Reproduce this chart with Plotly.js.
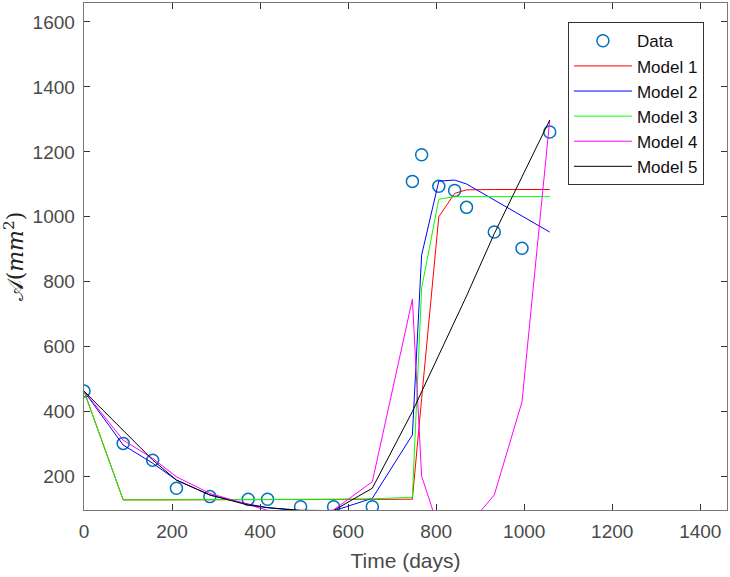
<!DOCTYPE html>
<html>
<head>
<meta charset="utf-8">
<script src="https://cdn.plot.ly/plotly-3.0.1.min.js"></script>
<style>html,body{margin:0;padding:0;background:#fff;}#chart{width:730px;height:577px;}</style>
</head>
<body>
<div id="chart"></div>
<script>
// Observation times (days) and measured area
const days = [0, 89, 156, 210, 286, 373, 417, 492, 567, 655, 746, 767, 806, 842, 869, 932, 995, 1058];
const dataArea = [463, 302, 250, 164, 138, 130, 130, 107, 107, 107, 1109, 1191, 1094, 1081, 1029, 953, 903, 1261];

// Model fits evaluated at the observation times
const model1 = [463, 128, 128, 128, 128, 128, 128, 128, 128, 128, 130, 440, 1000, 1072, 1083, 1084, 1084, 1084];
const model2 = [463, 297, 241, 189, 143, 115, 104, 94, 94, 133, 328, 882, 1110, 1113, 1101, 1052, 1002, 953];
const model3 = [463, 128, 128, 128, 129, 129, 129, 130, 130, 131, 136, 780, 1054, 1062, 1062, 1062, 1062, 1062];
const model4 = [463, 312, 256, 199, 148, 112, 96, 85, 97, 184, 746, 201, 40, 20, 43, 143, 430, 1298];
const model5 = [463, 343, 251, 189, 143, 112, 104, 96, 95, 164, 400, 461, 574, 678, 756, 948, 1121, 1298];

const seriesNames = ['Model 1', 'Model 2', 'Model 3', 'Model 4', 'Model 5'];
const seriesColors = ['#ff0000', '#0000ff', '#00ff00', '#ff00ff', '#000000'];
const seriesValues = [model1, model2, model3, model4, model5];

const traces = [{
  x: days, y: dataArea, type: 'scatter', mode: 'markers', name: 'Data',
  marker: {symbol: 'circle-open', size: 12, color: '#0072BD', line: {width: 1.5, color: '#0072BD'}}
}];
seriesValues.forEach((vals, i) => {
  traces.push({x: days, y: vals, type: 'scatter', mode: 'lines', name: seriesNames[i],
    line: {color: seriesColors[i], width: 1}});
});

const FONT = 'Liberation Sans, Arial, Helvetica, sans-serif';
const axisCommon = {
  showline: true, linecolor: '#777', linewidth: 1.3, mirror: 'ticks',
  ticks: 'inside', ticklen: 6, tickwidth: 1, tickcolor: '#333',
  showgrid: false, zeroline: false,
  tickfont: {family: FONT, size: 19, color: '#4a4a4a'}
};

const layout = {
  width: 730, height: 577,
  margin: {l: 84, r: 3, t: 3, b: 67},
  paper_bgcolor: '#fff', plot_bgcolor: '#fff',
  showlegend: true,
  xaxis: Object.assign({}, axisCommon, {
    range: [0, 1460.7], tick0: 0, dtick: 200, ticklabelstandoff: 4,
    title: {text: 'Time (days)', font: {family: FONT, size: 21, color: '#4a4a4a'}, standoff: 12}
  }),
  yaxis: Object.assign({}, axisCommon, {
    range: [96.8, 1658.5], tick0: 0, dtick: 200, ticklabelstandoff: 4,
    title: {text: '𝒜(<i>mm</i><sup>2</sup>)', font: {family: 'DejaVu Serif, Liberation Serif, serif', size: 22, color: '#222'}, standoff: 8}
  }),
  legend: {
    x: 0.7526, y: 0.962, xanchor: 'left', yanchor: 'top',
    bgcolor: '#fff', bordercolor: '#333', borderwidth: 1,
    font: {family: FONT, size: 17, color: '#111'},
    itemwidth: 58, tracegroupgap: 0
  }
};

Plotly.newPlot('chart', traces, layout, {displayModeBar: false, staticPlot: true});
</script>
</body>
</html>
